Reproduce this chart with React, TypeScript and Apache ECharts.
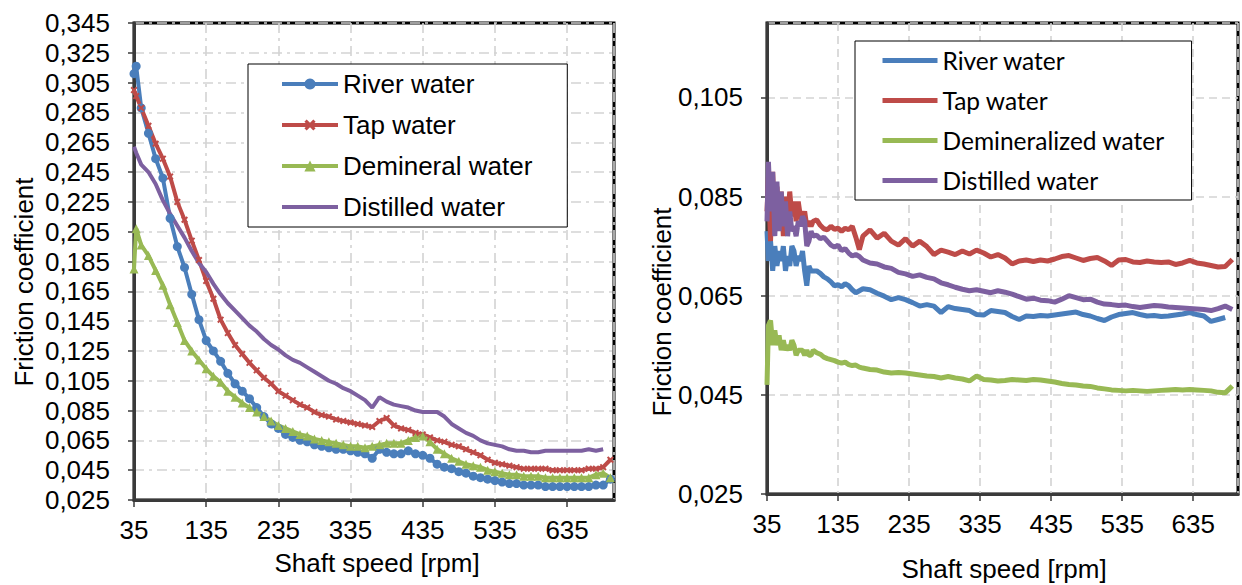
import React, { useEffect, useRef } from 'react';
import * as echarts from 'echarts';

// Axis origins (ticks are counted from these)
const X0 = 35;
const Y0 = 0.025;

// ---------- Left chart ----------
const leftRpm = [35, 38, 45, 55, 65, 75, 85, 95, 105, 115, 125, 135, 145, 155, 165, 175, 185, 195, 205, 215, 225, 235, 245, 255, 265, 275, 285, 295, 305, 315, 325, 335, 345, 355, 365, 375, 385, 395, 405, 415, 425, 435, 445, 455, 465, 475, 485, 495, 505, 515, 525, 535, 545, 555, 565, 575, 585, 595, 605, 615, 625, 635, 645, 655, 665, 675, 685, 695];
const leftRiver = [0.311, 0.316, 0.288, 0.271, 0.254, 0.241, 0.214, 0.195, 0.181, 0.163, 0.146, 0.132, 0.125, 0.118, 0.110, 0.103, 0.098, 0.093, 0.087, 0.081, 0.076, 0.073, 0.069, 0.067, 0.065, 0.064, 0.062, 0.061, 0.060, 0.059, 0.059, 0.058, 0.057, 0.056, 0.053, 0.059, 0.057, 0.056, 0.056, 0.058, 0.056, 0.055, 0.053, 0.049, 0.047, 0.046, 0.044, 0.043, 0.041, 0.040, 0.039, 0.038, 0.037, 0.036, 0.036, 0.035, 0.035, 0.035, 0.034, 0.034, 0.034, 0.034, 0.034, 0.034, 0.034, 0.035, 0.035, 0.039];
const leftTap = [0.300, 0.296, 0.288, 0.276, 0.264, 0.254, 0.242, 0.225, 0.213, 0.199, 0.186, 0.172, 0.160, 0.146, 0.137, 0.129, 0.123, 0.117, 0.112, 0.107, 0.103, 0.098, 0.095, 0.092, 0.089, 0.087, 0.084, 0.082, 0.081, 0.079, 0.078, 0.077, 0.076, 0.075, 0.074, 0.078, 0.080, 0.075, 0.073, 0.072, 0.070, 0.069, 0.067, 0.065, 0.064, 0.062, 0.061, 0.059, 0.057, 0.055, 0.052, 0.050, 0.049, 0.048, 0.047, 0.046, 0.046, 0.046, 0.046, 0.045, 0.045, 0.045, 0.045, 0.045, 0.046, 0.046, 0.047, 0.052];
const leftDemineral = [0.180, 0.207, 0.196, 0.189, 0.179, 0.169, 0.156, 0.144, 0.132, 0.125, 0.119, 0.113, 0.108, 0.104, 0.098, 0.094, 0.090, 0.087, 0.084, 0.081, 0.078, 0.075, 0.073, 0.071, 0.069, 0.068, 0.066, 0.065, 0.064, 0.063, 0.062, 0.061, 0.061, 0.060, 0.061, 0.062, 0.063, 0.063, 0.063, 0.065, 0.067, 0.068, 0.064, 0.059, 0.056, 0.053, 0.051, 0.049, 0.048, 0.047, 0.045, 0.044, 0.043, 0.042, 0.042, 0.041, 0.041, 0.041, 0.040, 0.040, 0.040, 0.040, 0.040, 0.040, 0.040, 0.042, 0.043, 0.040];
const leftDistilled = [0.262, 0.258, 0.250, 0.245, 0.237, 0.226, 0.217, 0.209, 0.201, 0.192, 0.184, 0.178, 0.170, 0.163, 0.157, 0.152, 0.147, 0.142, 0.138, 0.133, 0.129, 0.126, 0.122, 0.119, 0.117, 0.114, 0.111, 0.108, 0.105, 0.103, 0.100, 0.098, 0.095, 0.092, 0.087, 0.094, 0.091, 0.089, 0.088, 0.087, 0.085, 0.084, 0.084, 0.084, 0.081, 0.076, 0.073, 0.070, 0.068, 0.065, 0.063, 0.062, 0.061, 0.059, 0.058, 0.058, 0.057, 0.057, 0.058, 0.058, 0.058, 0.058, 0.058, 0.058, 0.059, 0.058, 0.059];

// ---------- Right chart ----------
const rightRpm = [35, 37, 40, 43, 46, 49, 52, 55, 58, 61, 64, 67, 70, 73, 76, 79, 82, 85, 88, 91, 94, 97, 100,
  105, 110, 115, 120, 125, 130, 135, 140, 145, 150, 155, 160, 165, 170,
  180, 190, 200, 210, 220, 230, 240, 250, 260, 270, 280, 290, 300, 310, 320, 330, 340, 350, 360, 370, 380, 390, 400, 410, 420, 430, 440, 450, 460, 470, 480, 490, 500, 510, 520, 530, 540, 550, 560, 570, 580, 590, 600, 610, 620, 630, 640, 650, 660, 670, 680, 690];
const rightRiver = [0.078, 0.072, 0.076, 0.070, 0.075, 0.071, 0.074, 0.072, 0.075, 0.070, 0.073, 0.071, 0.075, 0.074, 0.071, 0.073, 0.072, 0.074, 0.070, 0.067, 0.071, 0.070, 0.070,
  0.0700, 0.0695, 0.0688, 0.0684, 0.0678, 0.0670, 0.0672, 0.0668, 0.0674, 0.0670, 0.0662, 0.0656, 0.0660, 0.0664,
  0.0662, 0.0655, 0.0649, 0.0642, 0.0646, 0.0642, 0.0636, 0.0629, 0.0632, 0.0629, 0.0616, 0.0628, 0.0624, 0.0622, 0.0620, 0.0612, 0.0611, 0.0620, 0.0618, 0.0616, 0.0608, 0.0602, 0.0609, 0.0608, 0.0610, 0.0609, 0.0611, 0.0613, 0.0615, 0.0617, 0.0612, 0.0609, 0.0604, 0.0600, 0.0607, 0.0612, 0.0614, 0.0616, 0.0612, 0.0609, 0.0610, 0.0608, 0.0609, 0.0611, 0.0613, 0.0616, 0.0612, 0.0609, 0.0598, 0.0602, 0.0606, null];
const rightTap = [0.082, 0.089, 0.076, 0.090, 0.078, 0.087, 0.079, 0.086, 0.077, 0.085, 0.080, 0.086, 0.081, 0.084, 0.080, 0.084, 0.081, 0.080, 0.082, 0.079, 0.080, 0.079, 0.080,
  0.0803, 0.0792, 0.0785, 0.0783, 0.0790, 0.0784, 0.0786, 0.0780, 0.0786, 0.0783, 0.0790, 0.0768, 0.0743, 0.0770,
  0.0783, 0.0766, 0.0776, 0.0760, 0.0752, 0.0765, 0.0750, 0.0760, 0.0749, 0.0733, 0.0742, 0.0738, 0.0733, 0.0740, 0.0734, 0.0742, 0.0736, 0.0728, 0.0733, 0.0726, 0.0714, 0.0720, 0.0722, 0.0719, 0.0722, 0.0720, 0.0724, 0.0729, 0.0731, 0.0726, 0.0721, 0.0725, 0.0727, 0.0720, 0.0711, 0.0722, 0.0723, 0.0718, 0.0717, 0.0720, 0.0718, 0.0717, 0.0718, 0.0713, 0.0716, 0.0721, 0.0716, 0.0714, 0.0711, 0.0708, 0.0709, 0.0723];
const rightDemineralized = [0.047, 0.059, 0.060, 0.055, 0.058, 0.055, 0.057, 0.054, 0.056, 0.054, 0.055, 0.054, 0.056, 0.055, 0.053, 0.054, 0.054, 0.054, 0.053, 0.054, 0.053, 0.053, 0.054,
  0.0535, 0.0532, 0.0526, 0.0523, 0.0521, 0.0519, 0.0516, 0.0514, 0.0516, 0.0511, 0.0509, 0.0510, 0.0506, 0.0504,
  0.0501, 0.0500, 0.0496, 0.0494, 0.0495, 0.0494, 0.0492, 0.0490, 0.0488, 0.0487, 0.0484, 0.0487, 0.0484, 0.0482, 0.0478, 0.0488, 0.0481, 0.0480, 0.0478, 0.0479, 0.0481, 0.0480, 0.0479, 0.0481, 0.0480, 0.0478, 0.0476, 0.0473, 0.0471, 0.0470, 0.0468, 0.0467, 0.0464, 0.0462, 0.0460, 0.0459, 0.0458, 0.0459, 0.0458, 0.0457, 0.0458, 0.0459, 0.0460, 0.0461, 0.0460, 0.0461, 0.0460, 0.0459, 0.0458, 0.0455, 0.0454, 0.0468];
const rightDistilled = [0.080, 0.092, 0.082, 0.090, 0.077, 0.088, 0.078, 0.086, 0.079, 0.084, 0.077, 0.082, 0.078, 0.079, 0.077, 0.080, 0.079, 0.081, 0.080, 0.075, 0.076, 0.078, 0.077,
  0.0772, 0.0765, 0.0768, 0.0760, 0.0752, 0.0748, 0.0752, 0.0741, 0.0745, 0.0736, 0.0730, 0.0733, 0.0729, 0.0722,
  0.0716, 0.0714, 0.0708, 0.0705, 0.0697, 0.0694, 0.0689, 0.0692, 0.0687, 0.0684, 0.0676, 0.0672, 0.0667, 0.0663, 0.0660, 0.0662, 0.0659, 0.0656, 0.0660, 0.0657, 0.0653, 0.0648, 0.0643, 0.0645, 0.0641, 0.0640, 0.0637, 0.0643, 0.0650, 0.0646, 0.0642, 0.0643, 0.0637, 0.0633, 0.0632, 0.0630, 0.0631, 0.0628, 0.0626, 0.0628, 0.0630, 0.0629, 0.0627, 0.0626, 0.0625, 0.0624, 0.0623, 0.0622, 0.0620, 0.0624, 0.0629, 0.0622];

const leftNames = ['River water', 'Tap water', 'Demineral water', 'Distilled water'];
const rightNames = ['River water', 'Tap water', 'Demineralized water', 'Distilled water'];
const colors = ['#4A7EBB', '#BE4B48', '#98B954', '#7D60A0'];
const axisTitleX = 'Shaft speed [rpm]';
const axisTitleY = 'Friction coefficient';

const FONT = '"Liberation Sans", Arial, sans-serif';
const LEGEND_FONT_R = 'Lato, "Open Sans", sans-serif';
const RP = 'R:';

function pairs(xs: number[], ys: (number | null)[]) {
  const out: number[][] = [];
  ys.forEach((y, i) => {
    if (y != null) out.push([xs[i] - X0, +(y - Y0).toFixed(5)]);
  });
  return out;
}

function xAxis(gridIndex: number, max: number, dash: any) {
  return {
    type: 'value', gridIndex, min: 0, max, interval: 100,
    axisLine: { show: true, onZero: false, lineStyle: { color: '#3a3a3a', width: 3 } },
    axisTick: { show: true, length: 7, lineStyle: { color: '#3a3a3a', width: 1.5 } },
    axisLabel: {
      showMaxLabel: false, margin: 17, fontFamily: FONT, fontSize: 26, color: '#000',
      formatter: (v: number) => String(Math.round(v + X0)),
    },
    splitLine: { show: true, lineStyle: { color: '#D3D3D3', width: 1.6, type: dash } },
  };
}

function yAxis(gridIndex: number, max: number, dash: any) {
  return {
    type: 'value', gridIndex, min: 0, max, interval: 0.02,
    axisLine: { show: true, onZero: false, lineStyle: { color: '#3a3a3a', width: 3 } },
    axisTick: { show: true, length: 6, lineStyle: { color: '#3a3a3a', width: 1.5 } },
    axisLabel: {
      showMaxLabel: max > 0.3, margin: 24, fontFamily: FONT, fontSize: 26, color: '#000',
      formatter: (v: number) => (v + Y0).toFixed(3).replace('.', ','),
    },
    splitLine: { show: true, lineStyle: { color: '#D3D3D3', width: 1.6, type: dash } },
  };
}

const leftDash = [10, 5, 3, 5];
const rightDash = [8, 5];

const crossPath = 'path://M0,2L2,0L5,3L8,0L10,2L7,5L10,8L8,10L5,7L2,10L0,8L3,5Z';

function buildOption() {
  const leftData = [leftRiver, leftTap, leftDemineral, leftDistilled];
  const rightData = [rightRiver, rightTap, rightDemineralized, rightDistilled];
  const leftSymbols = ['circle', crossPath, 'triangle', 'none'];
  const leftSymbolSizes = [9, 7, 9, 0];

  const series: any[] = [];
  leftNames.forEach((name, i) => {
    series.push({
      name, type: 'line', xAxisIndex: 0, yAxisIndex: 0,
      data: pairs(leftRpm, leftData[i]),
      symbol: leftSymbols[i], symbolSize: leftSymbolSizes[i], showSymbol: leftSymbols[i] !== 'none',
      lineStyle: { width: 4, color: colors[i] },
      itemStyle: { color: colors[i] },
      emphasis: { disabled: true },
    });
  });
  rightNames.forEach((name, i) => {
    series.push({
      name: RP + name, type: 'line', xAxisIndex: 1, yAxisIndex: 1,
      data: pairs(rightRpm, rightData[i]),
      symbol: 'none',
      lineStyle: { width: 5, color: colors[i] },
      itemStyle: { color: colors[i] },
      emphasis: { disabled: true },
    });
  });

  const gridBase = { show: true, borderColor: '#000', borderWidth: 3, backgroundColor: 'transparent', containLabel: false };

  return {
    animation: false,
    backgroundColor: '#fff',
    grid: [
      { ...gridBase, left: 134, top: 23, width: 480, height: 477 },
      { ...gridBase, left: 767, top: 23, width: 471, height: 471 },
    ],
    xAxis: [xAxis(0, 665, leftDash), xAxis(1, 663, rightDash)],
    yAxis: [yAxis(0, 0.32, leftDash), yAxis(1, 0.095, rightDash)],
    legend: [
      {
        orient: 'vertical', left: 248, top: 64,
        padding: [7, 35, 7, 32], itemWidth: 56, itemHeight: 14, itemGap: 15,
        borderColor: '#000', borderWidth: 1, backgroundColor: '#fff',
        selectedMode: false,
        textStyle: { fontFamily: FONT, fontSize: 26, color: '#000' },
        data: leftNames.map((n, i) => ({
          name: n,
          itemStyle: n === 'Distilled water' ? { opacity: 0 } : { color: colors[i], opacity: 1 },
          lineStyle: { width: 4, color: colors[i], opacity: 1 },
        })),
      },
      {
        orient: 'vertical', left: 855, top: 41,
        padding: [7, 27, 7, 25], itemWidth: 55, itemHeight: 14, itemGap: 15,
        borderColor: '#000', borderWidth: 1, backgroundColor: '#fff',
        selectedMode: false,
        textStyle: { fontFamily: LEGEND_FONT_R, fontSize: 24.5, color: '#000' },
        formatter: (n: string) => n.replace(RP, ''),
        data: rightNames.map((n, i) => ({
          name: RP + n,
          itemStyle: { opacity: 0 },
          lineStyle: { width: 5, color: colors[i], opacity: 1 },
        })),
      },
    ],
    graphic: [
      { type: 'text', x: 24, y: 282, rotation: Math.PI / 2, style: { text: axisTitleY, fontFamily: FONT, fontSize: 26, fill: '#000', align: 'center', verticalAlign: 'middle' } },
      { type: 'text', x: 662, y: 312, rotation: Math.PI / 2, style: { text: axisTitleY, fontFamily: FONT, fontSize: 26, fill: '#000', align: 'center', verticalAlign: 'middle' } },
      { type: 'text', x: 377, y: 563, style: { text: axisTitleX, fontFamily: FONT, fontSize: 26, fill: '#000', align: 'center', verticalAlign: 'middle' } },
      { type: 'text', x: 1004, y: 569, style: { text: axisTitleX, fontFamily: FONT, fontSize: 26, fill: '#000', align: 'center', verticalAlign: 'middle' } },
    ],
    series,
  };
}

export default function App() {
  const ref = useRef<HTMLDivElement>(null);
  useEffect(() => {
    if (!ref.current) return;
    const chart = echarts.init(ref.current, null, { renderer: 'svg' });
    chart.setOption(buildOption() as any);
    return () => chart.dispose();
  }, []);
  return (
    <div
      ref={ref}
      style={{ position: 'fixed', left: 0, top: 0, width: 1242, height: 585, background: '#fff' }}
    />
  );
}
